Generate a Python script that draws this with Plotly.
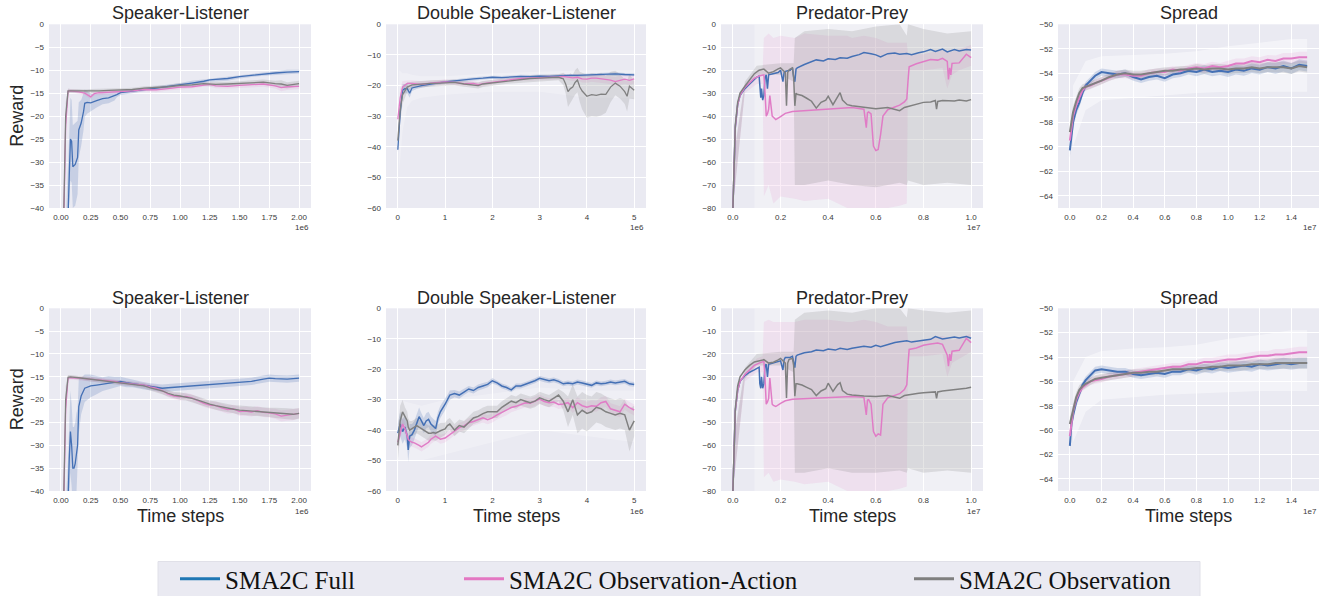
import plotly.graph_objects as go

W, H = 1327, 596

TITLES = ["Speaker-Listener", "Double Speaker-Listener", "Predator-Prey", "Spread",
          "Speaker-Listener", "Double Speaker-Listener", "Predator-Prey", "Spread"]
SERIES_NAMES = ["SMA2C Full", "SMA2C Observation-Action", "SMA2C Observation"]
X_EXPONENT = ["1e6", "1e6", "1e7", "1e7"]

SL_XTICKS = [0, 0.25, 0.5, 0.75, 1.0, 1.25, 1.5, 1.75, 2.0]
DSL_XTICKS = [0, 1, 2, 3, 4, 5]
PP_XTICKS = [0, 0.2, 0.4, 0.6, 0.8, 1.0]
SP_XTICKS = [0, 0.2, 0.4, 0.6, 0.8, 1.0, 1.2, 1.4]
SL_YTICKS = [0, -5, -10, -15, -20, -25, -30, -35, -40]
DSL_YTICKS = [0, -10, -20, -30, -40, -50, -60]
PP_YTICKS = [0, -10, -20, -30, -40, -50, -60, -70, -80]
SP_YTICKS = [-50, -52, -54, -56, -58, -60, -62, -64]

# ---------------- Speaker-Listener (top) x in 1e6 ----------------
SL1_BLUE_X = [0.0, 0.03, 0.06, 0.07, 0.08, 0.09, 0.10, 0.12, 0.14, 0.15, 0.17, 0.19, 0.20, 0.22, 0.25, 0.30, 0.35, 0.40, 0.45, 0.47,
              0.50, 0.60, 0.70, 0.80, 0.90, 1.00, 1.10, 1.20, 1.25, 1.30, 1.40, 1.50, 1.60, 1.70, 1.80, 1.90, 2.00]
SL1_BLUE_Y = [-70, -55, -42, -33, -25, -25.5, -31, -30.5, -29, -23, -21.5, -19, -17.2, -17, -17.1, -16.6, -16.2, -16, -15.6, -15.3,
              -14.9, -14.6, -14.2, -13.9, -13.5, -13.2, -12.8, -12.4, -12.1, -12.0, -11.8, -11.4, -11.1, -10.8, -10.6, -10.4, -10.3]
SL1_BLUE_S = [0, 5, 8, 9, 9, 9, 9, 9, 8, 6, 5, 4, 3, 2.5, 2, 1.5, 1.2, 1.2, 1, 0.6,
              0.5, 0.4, 0.4, 0.4, 0.4, 0.4, 0.5, 0.4, 0.4, 0.4, 0.5, 0.4, 0.4, 0.4, 0.4, 0.5, 0.4]
SL1_X = [0.0, 0.02, 0.04, 0.06, 0.08, 0.15, 0.20, 0.25, 0.28, 0.32, 0.40, 0.50, 0.60, 0.70, 0.80, 0.90, 1.00, 1.10, 1.20, 1.25,
         1.30, 1.40, 1.50, 1.60, 1.70, 1.80, 1.85, 1.90, 2.00]
SL1_PINK_Y = [-75, -50, -22, -14.6, -14.5, -14.7, -15.0, -15.8, -15.1, -14.9, -14.8, -14.7, -14.5, -14.2, -14.3, -14.0, -13.7, -13.6, -13.2, -13.1,
              -13.4, -13.5, -13.3, -13.2, -13.0, -13.4, -13.8, -13.6, -13.5]
SL1_GRAY_Y = [-72, -48, -20, -14.5, -14.5, -14.5, -14.6, -14.6, -14.5, -14.5, -14.4, -14.3, -14.2, -13.9, -13.8, -13.6, -13.3, -13.2, -12.9, -13.0,
              -13.1, -13.0, -12.9, -12.7, -12.6, -12.9, -13.0, -13.3, -12.9]
SL1_S = [0, 3, 3, 0.5, 0.4, 0.4, 0.4, 0.5, 0.4, 0.4, 0.4, 0.4, 0.4, 0.4, 0.5, 0.4, 0.5, 0.4, 0.4, 0.5,
         0.5, 0.5, 0.5, 0.5, 0.6, 0.6, 0.8, 0.7, 0.6]

# ---------------- Double Speaker-Listener (top) x in 1e6 ----------------
DSL1_BLUE_X = [0, 0.05, 0.1, 0.15, 0.2, 0.25, 0.3, 0.4, 0.5, 0.7, 0.9, 1.0, 1.2, 1.4, 1.6, 1.8, 2.0, 2.2, 2.4, 2.6,
               2.8, 3.0, 3.2, 3.4, 3.6, 3.8, 4.0, 4.2, 4.4, 4.6, 4.8, 5.0]
DSL1_BLUE_Y = [-41, -29, -21.5, -21, -21, -22.5, -20.8, -20.3, -20, -19.5, -19, -18.8, -18.5, -18.1, -17.8, -17.6, -17.3, -17.4, -17.2, -17.0,
               -17.1, -16.9, -17.0, -16.8, -16.7, -16.7, -16.6, -16.5, -16.3, -16.2, -16.4, -16.5]
DSL1_BLUE_S = [1, 3, 2, 1.5, 1.5, 1.5, 1, 0.8, 0.7, 0.6, 0.6, 0.5, 0.5, 0.5, 0.5, 0.5, 0.5, 0.5, 0.5, 0.5,
               0.5, 0.5, 0.5, 0.5, 0.5, 0.5, 0.5, 0.5, 0.5, 0.5, 0.5, 0.5]
DSL1_PINK_X = [0, 0.05, 0.1, 0.2, 0.3, 0.5, 0.7, 0.9, 1.0, 1.2, 1.4, 1.6, 1.7, 1.8, 2.0, 2.2, 2.4, 2.6, 2.8, 3.0,
               3.2, 3.4, 3.5, 3.6, 3.7, 3.8, 3.9, 4.0, 4.1, 4.2, 4.3, 4.4, 4.5, 4.6, 4.7, 4.8, 4.9, 5.0]
DSL1_PINK_Y = [-31, -24, -20.5, -19.3, -19.3, -19.6, -19.2, -19.0, -18.8, -19.0, -19.4, -19.3, -19.7, -19.4, -18.9, -18.4, -18.1, -17.7, -17.6, -17.5,
               -17.4, -17.2, -17.0, -17.3, -17.5, -17.3, -17.8, -17.9, -17.6, -17.6, -17.8, -18.0, -18.2, -18.7, -18.2, -17.9, -18.3, -17.8]
DSL1_PINK_S = [1, 3, 2, 1, 1, 1, 0.8, 0.8, 0.8, 0.8, 0.8, 0.8, 0.8, 0.8, 0.8, 0.7, 0.7, 0.7, 0.7, 0.7,
               0.7, 0.8, 0.8, 0.9, 1, 1, 1.2, 1.2, 1.2, 1.2, 1.2, 1.3, 1.3, 1.5, 1.5, 1.5, 1.5, 1.5]
DSL1_GRAY_X = [0, 0.05, 0.1, 0.2, 0.3, 0.5, 0.7, 0.9, 1.0, 1.2, 1.4, 1.6, 1.7, 1.8, 2.0, 2.2, 2.4, 2.6, 2.8, 3.0,
               3.2, 3.4, 3.5, 3.55, 3.6, 3.65, 3.7, 3.75, 3.8, 3.85, 3.9, 4.0, 4.1, 4.2, 4.3, 4.4, 4.5, 4.6, 4.7, 4.8,
               4.85, 4.9, 5.0]
DSL1_GRAY_Y = [-38, -28, -23, -20.5, -19.8, -19.5, -19.3, -19.2, -19.1, -19.0, -19.5, -19.8, -20.0, -19.5, -19.1, -18.7, -18.3, -18.0, -17.7, -17.6,
               -17.5, -17.3, -17.8, -19.5, -22.0, -21.0, -20.5, -19.0, -18.2, -20.5, -21.8, -23.5, -23.0, -23.2, -22.8, -22.9, -20.5, -19.2, -20.2, -22.0,
               -23.5, -20.2, -21.5]
DSL1_GRAY_S = [2, 4, 3, 1.5, 1, 1, 1, 1, 1, 1, 1, 1, 1, 1, 1, 1, 1, 1, 1, 1,
               1, 1, 2, 3, 5, 5, 4, 4, 4, 5, 6, 7, 7, 7, 7, 6, 5, 4, 4, 4,
               5, 4, 3]
DSL1_FAINT_X = [0.03, 0.1, 0.2, 0.3, 0.5, 1.0, 2.0, 3.0, 4.0, 5.0]
DSL1_FAINT_HI = [-15, -16, -16, -16.5, -17, -17, -16, -15.5, -15, -15]
DSL1_FAINT_LO = [-48, -35, -27, -25, -24, -23, -22, -22, -24, -24]

# ---------------- Predator-Prey (top) x in 1e7 ----------------
PP_BLUE_X = [0.0, 0.005, 0.01, 0.02, 0.03, 0.05, 0.07, 0.09, 0.10, 0.11, 0.113, 0.117, 0.12, 0.125, 0.13, 0.135, 0.14, 0.145, 0.15, 0.17,
             0.19, 0.20, 0.21, 0.215, 0.22, 0.24, 0.25, 0.255, 0.26, 0.265, 0.27, 0.30, 0.33, 0.35, 0.38, 0.40, 0.43, 0.45, 0.48, 0.50,
             0.53, 0.55, 0.58, 0.60, 0.62, 0.65, 0.68, 0.70, 0.73, 0.75, 0.78, 0.80, 0.83, 0.85, 0.88, 0.90, 0.93, 0.95, 0.98, 1.00]
PP1_BLUE_Y = [-80, -60, -45, -35, -31, -28, -26, -24, -23, -22.5, -29, -32, -28, -33, -31, -23, -22, -28, -22, -21.5,
              -21, -20, -25, -21, -20.5, -20, -19, -23, -25, -19.5, -19, -17.5, -16.5, -15.5, -16, -15, -15.3, -14.6, -14.8, -14,
              -13.2, -12.3, -12.8, -13.3, -14.2, -12.8, -12.5, -13, -12.7, -13.2, -12.4, -12, -11, -11.8, -10.8, -12, -11, -11.6, -11, -11.2]
PP_PINK_X = [0.0, 0.005, 0.01, 0.02, 0.03, 0.05, 0.07, 0.09, 0.11, 0.125, 0.13, 0.135, 0.14, 0.145, 0.15, 0.155, 0.16, 0.165, 0.17, 0.18,
             0.20, 0.22, 0.25, 0.30, 0.35, 0.40, 0.45, 0.50, 0.55, 0.555, 0.56, 0.565, 0.57, 0.58, 0.59, 0.60, 0.61, 0.62, 0.625, 0.63,
             0.65, 0.68, 0.70, 0.72, 0.73, 0.735, 0.74, 0.77, 0.80, 0.83, 0.86, 0.88, 0.90, 0.905, 0.91, 0.915, 0.92, 0.95, 0.98, 1.00]
PP1_PINK_Y = [-80, -60, -45, -35, -31, -27.5, -25.5, -23.5, -22.5, -22, -22, -30, -40, -39, -37, -31, -35, -40, -40.5, -41.5,
              -40.2, -38.8, -38, -37.6, -37.2, -37, -36.6, -36.2, -37, -42, -45, -38.5, -38.2, -39, -53, -55, -54.5, -48, -44, -40,
              -37.2, -36, -35.2, -33.8, -32.5, -25, -18.5, -17.2, -16.2, -15.3, -15.6, -14.8, -16.2, -24, -19, -22, -17, -16.8, -13, -14.5]
PP_GRAY_X = [0.0, 0.005, 0.01, 0.02, 0.03, 0.05, 0.07, 0.09, 0.11, 0.13, 0.15, 0.17, 0.19, 0.20, 0.21, 0.22, 0.225, 0.23, 0.235, 0.24,
             0.25, 0.255, 0.26, 0.265, 0.27, 0.29, 0.31, 0.33, 0.35, 0.37, 0.39, 0.40, 0.42, 0.44, 0.45, 0.46, 0.48, 0.50, 0.55, 0.60,
             0.65, 0.68, 0.70, 0.72, 0.75, 0.78, 0.80, 0.83, 0.85, 0.855, 0.86, 0.88, 0.90, 0.93, 0.95, 0.98, 1.00]
PP1_GRAY_Y = [-80, -60, -44, -34, -30, -27, -24, -21.5, -20, -19.5, -21.3, -20.6, -19.4, -19, -20, -21, -35.5, -21, -20, -19.5,
              -19, -23, -35.5, -30, -30.5, -31, -32.2, -33.5, -36.5, -34, -33, -31.3, -35, -31.5, -29.8, -33, -35, -35.5, -36, -36.8,
              -36.2, -37, -37.6, -36.2, -35.3, -34.6, -34, -33.8, -33.2, -37, -33.6, -33.2, -33.2, -33.4, -33, -33.4, -32.8]
PP_PINK_BAND_X = [0.0, 0.05, 0.10, 0.125, 0.13, 0.15, 0.17, 0.20, 0.26, 0.30, 0.40, 0.48, 0.50, 0.55, 0.60, 0.65, 0.70, 0.73, 0.735, 0.80,
                  0.88, 0.90, 0.92, 0.95, 1.00]
PP1_PINK_BAND_HI = [-60, -26, -20, -19, -6, -4, -6, -5, -6, -4, -5, -5, -6, -5, -6, -8, -8, -8, -13, -13, -11, -12, -12, -11, -9]
PP1_PINK_BAND_LO = [-80, -30, -26, -26, -75, -70, -78, -75, -76, -77, -76, -80, -80, -80, -80, -80, -79, -78, -20, -20, -19, -28, -22, -20, -18]
PP_GRAY_BAND_X = [0.0, 0.05, 0.10, 0.20, 0.255, 0.26, 0.30, 0.40, 0.50, 0.60, 0.70, 0.73, 0.735, 0.80, 0.90, 1.00]
PP1_GRAY_BAND_HI = [-60, -25, -18, -17, -17, -6, -3, -2, -3, -1, 0, -5, 0, -2, -4, -3]
PP1_GRAY_BAND_LO = [-80, -29, -22, -22, -25, -70, -70, -68, -70, -71, -69, -70, -68, -70, -69, -70]
PP_FAINT_X = [0.09, 1.0]
PP_FAINT_HI = [0, 0]
PP_FAINT_LO = [-80, -80]

# ---------------- Spread (top) x in 1e7 ----------------
SP_X = [0.0, 0.01, 0.02, 0.04, 0.06, 0.08, 0.10, 0.13, 0.16, 0.20, 0.25, 0.30, 0.35, 0.40, 0.45, 0.50, 0.55, 0.60, 0.65, 0.70,
        0.75, 0.80, 0.85, 0.90, 0.95, 1.00, 1.05, 1.10, 1.15, 1.20, 1.25, 1.30, 1.35, 1.40, 1.45, 1.50]
SP1_BLUE_Y = [-60.3, -58.8, -58.0, -57.0, -56.4, -55.6, -55.0, -54.6, -54.2, -53.9, -54.0, -54.1, -54.0, -54.3, -54.5, -54.3, -54.2, -54.4, -54.1, -54.0,
              -53.8, -53.9, -53.7, -53.9, -53.8, -53.9, -53.7, -53.8, -53.6, -53.7, -53.5, -53.6, -53.4, -53.6, -53.3, -53.4]
SP1_PINK_Y = [-59.5, -58.3, -57.5, -56.6, -56.0, -55.4, -55.1, -55.0, -54.8, -54.6, -54.3, -54.1, -54.1, -54.2, -54.2, -54.0, -53.9, -53.9, -53.7, -53.8,
              -53.6, -53.5, -53.6, -53.4, -53.5, -53.4, -53.2, -53.2, -53.0, -53.1, -52.9, -53.0, -52.8, -52.8, -52.7, -52.7]
SP1_GRAY_Y = [-58.8, -58.0, -57.2, -56.3, -55.6, -55.2, -55.1, -55.0, -54.8, -54.6, -54.3, -54.1, -54.0, -54.1, -54.1, -54.0, -53.9, -53.8, -53.8, -53.7,
              -53.7, -53.6, -53.7, -53.6, -53.6, -53.7, -53.6, -53.6, -53.5, -53.6, -53.5, -53.5, -53.5, -53.6, -53.4, -53.5]
SP_S = [0.6, 0.5, 0.5, 0.4, 0.4, 0.3, 0.3, 0.3, 0.3, 0.3, 0.3, 0.3, 0.3, 0.3, 0.3, 0.3, 0.3, 0.3, 0.3, 0.3,
        0.3, 0.35, 0.35, 0.35, 0.35, 0.4, 0.4, 0.4, 0.4, 0.4, 0.4, 0.45, 0.45, 0.45, 0.45, 0.45]
SP_FAINT_X = [0.02, 0.1, 0.2, 0.4, 0.6, 0.8, 1.0, 1.2, 1.4, 1.5]
SP1_FAINT_HI = [-55, -53, -52.6, -52.5, -52.4, -52.2, -51.8, -51.5, -51.2, -51.2]
SP1_FAINT_LO = [-60, -57, -56.2, -56, -55.8, -55.6, -55.5, -55.5, -55.5, -55.5]

# ---------------- Speaker-Listener (bottom) ----------------
SL2_BLUE_X = [0.0, 0.03, 0.06, 0.07, 0.08, 0.09, 0.10, 0.11, 0.12, 0.13, 0.14, 0.15, 0.17, 0.20, 0.25, 0.30, 0.35, 0.40, 0.45, 0.50,
              0.55, 0.60, 0.70, 0.75, 0.80, 0.85, 0.90, 1.00, 1.10, 1.20, 1.30, 1.40, 1.50, 1.60, 1.70, 1.75, 1.80, 1.90, 2.00]
SL2_BLUE_Y = [-70, -55, -42, -33, -27, -30, -35, -35, -34, -32, -30, -21.5, -19.2, -17.5, -17.0, -16.8, -16.6, -16.3, -16.2, -16.0,
              -16.3, -16.5, -17.0, -17.2, -17.3, -17.5, -17.4, -17.2, -17.0, -16.8, -16.6, -16.4, -16.2, -16.0, -15.5, -15.3, -15.4, -15.5, -15.3]
SL2_BLUE_S = [0, 6, 9, 9, 9, 9, 9, 9, 9, 9, 8, 6, 4, 3, 2.5, 2, 1.5, 1.5, 1.2, 1,
              1, 0.8, 0.8, 0.8, 0.8, 0.8, 0.8, 0.8, 0.8, 0.8, 0.8, 0.8, 0.8, 0.8, 0.8, 0.8, 0.8, 0.8, 0.8]
SL2_X = [0.0, 0.02, 0.04, 0.06, 0.08, 0.15, 0.25, 0.35, 0.45, 0.50, 0.60, 0.70, 0.75, 0.80, 0.85, 0.90, 0.95, 1.00, 1.05, 1.10,
         1.15, 1.20, 1.25, 1.30, 1.35, 1.40, 1.45, 1.50, 1.55, 1.60, 1.65, 1.70, 1.75, 1.80, 1.85, 1.90, 1.95, 2.00]
SL2_PINK_Y = [-75, -50, -22, -15.3, -15.2, -15.3, -15.5, -15.8, -16.0, -16.3, -16.5, -16.8, -17.2, -17.5, -18.0, -18.8, -19.2, -19.4, -19.3, -19.6,
              -20.2, -20.8, -21.2, -21.3, -21.8, -22.2, -22.0, -22.6, -22.5, -22.7, -22.4, -22.8, -22.9, -23.1, -23.6, -23.4, -23.3, -23.0]
SL2_GRAY_Y = [-72, -48, -20, -15.1, -15.0, -15.2, -15.5, -15.9, -16.1, -16.3, -16.6, -17.0, -17.4, -17.7, -18.1, -18.6, -19.0, -19.2, -19.4, -19.7,
              -20.1, -20.6, -21.0, -21.3, -21.6, -21.9, -22.1, -22.3, -22.4, -22.6, -22.6, -22.7, -22.8, -22.9, -23.0, -23.1, -23.2, -23.0]
SL2_S = [0, 3, 3, 0.5, 0.4, 0.4, 0.5, 0.5, 0.5, 0.5, 0.5, 0.6, 0.6, 0.7, 0.7, 0.7, 0.7, 0.8, 0.8, 0.8,
         0.8, 0.8, 0.8, 0.9, 0.9, 0.9, 0.9, 1, 1, 1, 1, 1, 1, 1.1, 1.2, 1.2, 1.2, 1.1]

# ---------------- Double Speaker-Listener (bottom) ----------------
DSL2_X = [0, 0.05, 0.1, 0.15, 0.2, 0.22, 0.25, 0.3, 0.35, 0.4, 0.45, 0.5, 0.55, 0.6, 0.65, 0.7, 0.75, 0.8, 0.85, 0.9,
          1.0, 1.05, 1.1, 1.2, 1.3, 1.4, 1.5, 1.6, 1.7, 1.8, 1.9, 2.0, 2.1, 2.2, 2.3, 2.4, 2.5, 2.6, 2.7, 2.8,
          2.9, 3.0, 3.1, 3.2, 3.3, 3.4, 3.5, 3.6, 3.7, 3.8, 3.9, 4.0, 4.1, 4.2, 4.3, 4.4, 4.5, 4.6, 4.7, 4.8,
          4.9, 5.0]
DSL2_BLUE_Y = [-41, -38, -40.5, -39, -42, -46.5, -42, -41.5, -40, -38, -35.6, -37, -38.5, -37, -36.5, -38, -38.8, -39.5, -36, -34,
               -31.5, -30, -28.5, -28, -28.5, -27.5, -26.5, -27, -26, -25.5, -25, -23.8, -24.5, -25.5, -26, -26.8, -25.5, -25.5, -25, -24.5,
               -23.8, -23, -23.5, -23.8, -23.5, -24, -24.8, -24.5, -24.8, -24.2, -24.5, -25, -25.3, -24.5, -24.8, -24.6, -24.2, -24.5, -24.2, -24,
               -24.8, -25]
DSL2_PINK_Y = [-44, -41, -38, -39.5, -42.5, -43, -43.5, -44, -44.2, -44.5, -45, -45.5, -45, -44.5, -44, -43, -42.5, -42, -42.5, -43,
               -42.6, -42, -41.5, -40.2, -39.2, -38.6, -37.6, -37.2, -36.6, -36, -36.6, -36, -35, -34.2, -33.6, -32.6, -32.2, -31.6, -31, -31.2,
               -30.6, -29.8, -30.6, -31, -30.8, -31.6, -31.4, -31, -32.6, -31, -32, -32.5, -32, -32.2, -31, -30.6, -33, -33.4, -34, -31.5,
               -32.6, -33.4]
DSL2_GRAY_Y = [-45, -37, -34, -35.5, -37, -39, -40, -39.5, -39, -38.5, -39, -39.5, -40, -40.5, -41, -41, -40.8, -41, -40.5, -40.2,
               -39.6, -38.5, -38, -40, -38.5, -39, -37.5, -36, -35.5, -34.6, -34, -34, -34, -32.5, -31.5, -30.5, -31, -30, -30.5, -31,
               -30.5, -29.4, -30, -30.5, -29.5, -28.5, -30.5, -34, -30, -35, -33.5, -34.5, -34, -32.5, -33, -34, -34.5, -35, -34.5, -35,
               -40, -37]
DSL2_BLUE_S = [3, 4, 4, 4, 4, 4, 4, 3.5, 3, 3, 3, 2.5, 2.5, 2.5, 2.5, 2.5, 2.5, 2.5, 2, 2,
               2, 1.5, 1.5, 1.2, 1.2, 1, 1, 1, 1, 1, 0.9, 0.9, 0.8, 0.8, 0.8, 0.8, 0.8, 0.8, 0.8, 0.8,
               0.8, 0.8, 0.8, 0.8, 0.8, 0.8, 0.8, 0.8, 0.8, 0.8, 0.8, 0.8, 0.8, 0.8, 0.8, 0.8, 0.8, 0.8, 0.8, 0.8,
               0.8, 0.8]
DSL2_PINK_S = [2, 2, 2, 2, 2, 1.5, 1.5, 1.5, 1.5, 1.5, 1.5, 1.5, 1.5, 1.5, 1.5, 1.5, 1.5, 1.5, 1.5, 1.5,
               1.5, 1.5, 1.5, 1.5, 1.5, 1.5, 1.5, 1.5, 1.5, 1.5, 1.5, 1.5, 1.5, 1.5, 1.5, 1.5, 1.5, 1.5, 1.5, 1.5,
               1.5, 1.5, 1.5, 1.5, 1.5, 1.5, 1.5, 1.5, 1.8, 1.8, 1.8, 1.8, 1.8, 1.8, 1.8, 1.8, 1.8, 1.8, 1.8, 1.8,
               1.8, 1.8]
DSL2_GRAY_S = [5, 5, 4, 3, 3, 3, 3, 2.5, 2.5, 2.5, 2.5, 2.5, 2.5, 2.5, 2.5, 2.5, 2.5, 2.5, 2.5, 2.5,
               2, 2, 2, 2, 2, 2, 2, 2, 2, 2, 2, 2, 2, 2, 2, 2, 2, 2, 2, 2,
               2, 2, 2, 2, 2, 2, 3, 5, 5, 6, 6, 6, 5, 5, 5, 5, 5, 5, 5, 5,
               7, 5]
DSL2_FAINT_X = [0.0, 0.5, 1.0, 2.0, 3.0, 4.0, 5.0]
DSL2_FAINT_HI = [-30, -32, -30, -28, -26, -27, -27]
DSL2_FAINT_LO = [-50, -50, -48, -44, -40, -42, -44]

# ---------------- Predator-Prey (bottom) ----------------
PP2_BLUE_Y = [-80, -60, -45, -36, -32, -29.5, -28, -27, -26.5, -25.8, -33, -35, -30, -35, -33, -25, -24.5, -30, -24.5, -24,
              -23.5, -23, -27, -22.5, -21.5, -21.5, -21, -24, -26, -21, -20.5, -19.5, -19, -18.3, -18.6, -17.8, -18.3, -17.5, -18, -17.5,
              -17, -16.6, -17, -16.2, -16.8, -15.8, -15, -14.6, -14.2, -14.8, -14.2, -14, -13.6, -12.4, -13.4, -13.2, -12.6, -13, -12.4, -13.1]
PP2_PINK_Y = [-80, -60, -45, -36, -32, -29, -27, -25, -24, -23.5, -23.2, -31, -42, -41, -39.5, -30.5, -36, -42, -42.5, -43,
              -41.6, -40.5, -39.8, -39.5, -39.2, -39, -38.8, -38.6, -39, -43, -46.7, -40.2, -40, -42, -54, -56, -55, -55.5, -49, -42,
              -39.2, -38, -37.4, -35.6, -33.5, -25, -18, -17.4, -16.2, -15.6, -15.2, -15.8, -20.5, -25.3, -20, -23, -18.8, -18.4, -13.2, -15]
PP2_GRAY_Y = [-80, -60, -44, -34, -30, -27, -25, -23.5, -23, -22.5, -24, -23.6, -22.6, -22, -23, -24, -39.3, -24, -22.5, -22.2,
              -22, -25, -38.5, -33, -33, -33.6, -34.6, -35.6, -38.2, -36.2, -35.2, -32.8, -36.4, -33.4, -32.6, -36, -37.6, -38, -38.4, -38.6,
              -38.2, -39, -39.4, -38.2, -37.6, -37.2, -37, -36.8, -36.6, -39.4, -36.6, -36.2, -36, -35.6, -35.4, -35, -34.6]
PP2_PINK_BAND_HI = [-60, -28, -22, -21, -6, -5, -6, -6, -6, -5, -5, -6, -6, -5, -6, -8, -8, -8, -14, -14, -12, -13, -14, -13, -11]
PP2_PINK_BAND_LO = [-80, -32, -28, -28, -74, -72, -76, -75, -76, -77, -76, -80, -80, -80, -80, -80, -79, -78, -21, -21, -20, -30, -24, -22, -19]
PP2_GRAY_BAND_HI = [-60, -26, -20, -19, -19, -5, -2, -1, -2, 0, 0, -4, 0, -1, -2, -1]
PP2_GRAY_BAND_LO = [-80, -31, -25, -25, -28, -72, -72, -70, -72, -72, -71, -72, -70, -72, -71, -72]

# ---------------- Spread (bottom) ----------------
SP2_BLUE_Y = [-61.3, -59.5, -58.8, -57.7, -57.0, -56.3, -55.9, -55.5, -55.1, -55.0, -55.1, -55.2, -55.2, -55.4, -55.5, -55.4, -55.3, -55.4, -55.2, -55.2,
              -55.0, -55.1, -54.9, -55.0, -54.8, -54.9, -54.8, -54.7, -54.8, -54.6, -54.7, -54.6, -54.5, -54.6, -54.5, -54.5]
SP2_PINK_Y = [-60.5, -59.2, -58.5, -57.5, -56.9, -56.5, -56.3, -56.0, -55.9, -55.8, -55.6, -55.5, -55.4, -55.3, -55.2, -55.1, -55.0, -54.9, -54.8, -54.8,
              -54.6, -54.6, -54.4, -54.4, -54.3, -54.2, -54.2, -54.1, -54.0, -53.9, -53.9, -53.8, -53.8, -53.7, -53.6, -53.6]
SP2_GRAY_Y = [-59.5, -59.0, -58.3, -57.3, -56.7, -56.4, -56.2, -56.0, -55.8, -55.7, -55.6, -55.5, -55.4, -55.3, -55.3, -55.2, -55.2, -55.1, -55.0, -55.0,
              -55.0, -54.9, -54.9, -54.8, -54.8, -54.7, -54.7, -54.7, -54.6, -54.6, -54.6, -54.5, -54.5, -54.5, -54.5, -54.5]
SP2_FAINT_HI = [-56, -54, -53.5, -53.3, -53.2, -53, -52.5, -52.2, -51.8, -51.8]
SP2_FAINT_LO = [-61, -58.5, -57.5, -57.3, -57.1, -57, -56.9, -56.8, -56.8, -56.8]

# ---------------- styling ----------------
LINE_COL = ["#4470B5", "#E07CC6", "#808080"]
LEG_COL = ["#1f77b4", "#e377c2", "#7f7f7f"]
BAND_COL = ["rgba(76,114,176,0.22)", "rgba(227,119,194,0.13)", "rgba(127,127,127,0.20)"]
FAINT_COL = "rgba(255,255,255,0.28)"
BG = "#EAEAF2"
COL_PX = [(49, 311), (386, 646), (721, 983), (1058, 1319)]
ROW_PX = [(24.3, 208), (308.3, 491)]
XRANGES = [(-0.1, 2.1), (-0.25, 5.25), (-0.05, 1.05), (-0.075, 1.575)]
YRANGES = [(-40, 0), (-60, 0), (-80, 0), (-65, -50)]
XTICKS = [SL_XTICKS, DSL_XTICKS, PP_XTICKS, SP_XTICKS]
XFMT = [".2f", "d", ".1f", ".1f"]
YTICKS = [SL_YTICKS, DSL_YTICKS, PP_YTICKS, SP_YTICKS]


def spread_band(x, y, s):
    n = min(len(x), len(y), len(s))
    return x[:n], [y[i] - s[i] for i in range(n)], [y[i] + s[i] for i in range(n)]


PANELS = [
    dict(series=[(SL1_BLUE_X, SL1_BLUE_Y, SL1_BLUE_S), (SL1_X, SL1_PINK_Y, SL1_S), (SL1_X, SL1_GRAY_Y, SL1_S)], bands=[], width=1.3),
    dict(series=[(DSL1_BLUE_X, DSL1_BLUE_Y, DSL1_BLUE_S), (DSL1_PINK_X, DSL1_PINK_Y, DSL1_PINK_S), (DSL1_GRAY_X, DSL1_GRAY_Y, DSL1_GRAY_S)],
         bands=[(DSL1_FAINT_X, DSL1_FAINT_LO, DSL1_FAINT_HI, "rgba(255,255,255,0.25)")], width=1.3),
    dict(series=[(PP_BLUE_X, PP1_BLUE_Y, None), (PP_PINK_X, PP1_PINK_Y, None), (PP_GRAY_X, PP1_GRAY_Y, None)],
         bands=[(PP_FAINT_X, PP_FAINT_LO, PP_FAINT_HI, FAINT_COL),
                (PP_PINK_BAND_X, PP1_PINK_BAND_LO, PP1_PINK_BAND_HI, BAND_COL[1]),
                (PP_GRAY_BAND_X, PP1_GRAY_BAND_LO, PP1_GRAY_BAND_HI, BAND_COL[2])], width=1.5),
    dict(series=[(SP_X, SP1_BLUE_Y, SP_S), (SP_X, SP1_PINK_Y, SP_S), (SP_X, SP1_GRAY_Y, SP_S)],
         bands=[(SP_FAINT_X, SP1_FAINT_LO, SP1_FAINT_HI, "rgba(255,255,255,0.45)")], width=2.0),
    dict(series=[(SL2_BLUE_X, SL2_BLUE_Y, SL2_BLUE_S), (SL2_X, SL2_PINK_Y, SL2_S), (SL2_X, SL2_GRAY_Y, SL2_S)], bands=[], width=1.3),
    dict(series=[(DSL2_X, DSL2_BLUE_Y, DSL2_BLUE_S), (DSL2_X, DSL2_PINK_Y, DSL2_PINK_S), (DSL2_X, DSL2_GRAY_Y, DSL2_GRAY_S)],
         bands=[(DSL2_FAINT_X, DSL2_FAINT_LO, DSL2_FAINT_HI, "rgba(255,255,255,0.25)")], width=1.5),
    dict(series=[(PP_BLUE_X, PP2_BLUE_Y, None), (PP_PINK_X, PP2_PINK_Y, None), (PP_GRAY_X, PP2_GRAY_Y, None)],
         bands=[(PP_FAINT_X, PP_FAINT_LO, PP_FAINT_HI, FAINT_COL),
                (PP_PINK_BAND_X, PP2_PINK_BAND_LO, PP2_PINK_BAND_HI, BAND_COL[1]),
                (PP_GRAY_BAND_X, PP2_GRAY_BAND_LO, PP2_GRAY_BAND_HI, BAND_COL[2])], width=1.5),
    dict(series=[(SP_X, SP2_BLUE_Y, SP_S), (SP_X, SP2_PINK_Y, SP_S), (SP_X, SP2_GRAY_Y, SP_S)],
         bands=[(SP_FAINT_X, SP2_FAINT_LO, SP2_FAINT_HI, "rgba(255,255,255,0.45)")], width=2.0),
]

fig = go.Figure()
layout = {}
annotations = []
TICKFONT = dict(family="Liberation Sans", size=8, color="#3a3a3a")

for k, p in enumerate(PANELS):
    row, col = divmod(k, 4)
    i = k + 1
    sfx = "" if i == 1 else str(i)
    xa, ya = "x" + sfx, "y" + sfx
    x0, x1 = COL_PX[col]
    y0, y1 = ROW_PX[row]
    layout["xaxis" + sfx] = dict(domain=[x0 / W, x1 / W], anchor=ya, range=list(XRANGES[col]),
                                 tickvals=XTICKS[col], tickformat=XFMT[col], showgrid=True, gridcolor="white",
                                 gridwidth=1, zeroline=False, showline=False, ticks="", tickfont=TICKFONT,
                                 ticklabelstandoff=3, fixedrange=True, automargin=False)
    layout["yaxis" + sfx] = dict(domain=[1 - y1 / H, 1 - y0 / H], anchor=xa, range=list(YRANGES[col]),
                                 tickvals=YTICKS[col], showgrid=True, gridcolor="white", gridwidth=1,
                                 zeroline=False, showline=False, ticks="", tickfont=TICKFONT,
                                 ticklabelstandoff=4, fixedrange=True, automargin=False)
    for (bx, lo, hi, colr) in p["bands"]:
        fig.add_trace(go.Scatter(x=list(bx) + list(bx)[::-1], y=list(hi) + list(lo)[::-1], fill="toself",
                                 fillcolor=colr, line=dict(width=0), mode="lines", hoverinfo="skip",
                                 showlegend=False, xaxis=xa, yaxis=ya))
    for j, (sx, sy, ss) in enumerate(p["series"]):
        if ss is not None:
            bx, lo, hi = spread_band(sx, sy, ss)
            fig.add_trace(go.Scatter(x=list(bx) + list(bx)[::-1], y=hi + lo[::-1], fill="toself",
                                     fillcolor=BAND_COL[j], line=dict(width=0), mode="lines", hoverinfo="skip",
                                     showlegend=False, xaxis=xa, yaxis=ya))
    for j, (sx, sy, ss) in enumerate(p["series"]):
        n = min(len(sx), len(sy))
        fig.add_trace(go.Scatter(x=sx[:n], y=sy[:n], mode="lines", line=dict(color=LINE_COL[j], width=p["width"]),
                                 hoverinfo="skip", showlegend=False, xaxis=xa, yaxis=ya))
    ty = 13.3 if row == 0 else 297.8
    annotations.append(dict(text=TITLES[k], x=(x0 + x1) / 2 / W, y=1 - ty / H, xref="paper", yref="paper",
                            xanchor="center", yanchor="middle", showarrow=False,
                            font=dict(family="Liberation Sans", size=18, color="#262626")))
    ey = 227.5 if row == 0 else 511.0
    annotations.append(dict(text=X_EXPONENT[col], x=x1 / W, y=1 - ey / H, xref="paper", yref="paper",
                            xanchor="right", yanchor="middle", showarrow=False, font=TICKFONT))
    if col == 0:
        annotations.append(dict(text="Reward", x=16.7 / W, y=1 - ((y0 + y1) / 2) / H, xref="paper", yref="paper",
                                xanchor="center", yanchor="middle", textangle=-90, showarrow=False,
                                font=dict(family="Liberation Sans", size=18, color="#262626")))
    if row == 1:
        annotations.append(dict(text="Time steps", x=(x0 + x1) / 2 / W, y=1 - 515.5 / H, xref="paper", yref="paper",
                                xanchor="center", yanchor="middle", showarrow=False,
                                font=dict(family="Liberation Sans", size=18, color="#262626")))

LEG_LINE_START = [177, 458, 907]
LEG_SHIFT = [0, 3, 4]
legend_keys = ["legend", "legend2", "legend3"]
for j, name in enumerate(SERIES_NAMES):
    fig.add_trace(go.Scatter(x=[None], y=[None], mode="lines", name=name,
                             line=dict(color=LEG_COL[j], width=3), legend=legend_keys[j]))
    layout[legend_keys[j]] = dict(x=(LEG_LINE_START[j] - 2 + LEG_SHIFT[j]) / W, y=1 - 579 / H,
                                  xanchor="left", yanchor="middle",
                                  orientation="h", bgcolor="rgba(0,0,0,0)", borderwidth=0, itemwidth=40,
                                  font=dict(family="Liberation Serif", size=25, color="#111111"))

fig.update_layout(
    width=W, height=H, autosize=False, margin=dict(l=0, r=0, t=0, b=0, pad=0, autoexpand=False),
    paper_bgcolor="white", plot_bgcolor=BG, hovermode=False,
    font=dict(family="Liberation Sans"),
    annotations=annotations,
    shapes=[dict(type="rect", xref="paper", yref="paper", x0=158 / W, x1=1200 / W, y0=-0.02, y1=1 - 561.5 / H,
                 fillcolor=BG, line=dict(color="#e0e0e8", width=1), layer="below")],
    **layout,
)

POST = ("document.documentElement.style.margin='0';document.documentElement.style.overflow='hidden';"
        "document.body.style.margin='0';document.body.style.padding='0';document.body.style.overflow='hidden';"
        "var gd=document.getElementById('{plot_id}');gd.style.position='absolute';gd.style.left='0px';gd.style.top='0px';")
fig.write_html("out.html", config={"displayModeBar": False, "responsive": False}, post_script=POST)
